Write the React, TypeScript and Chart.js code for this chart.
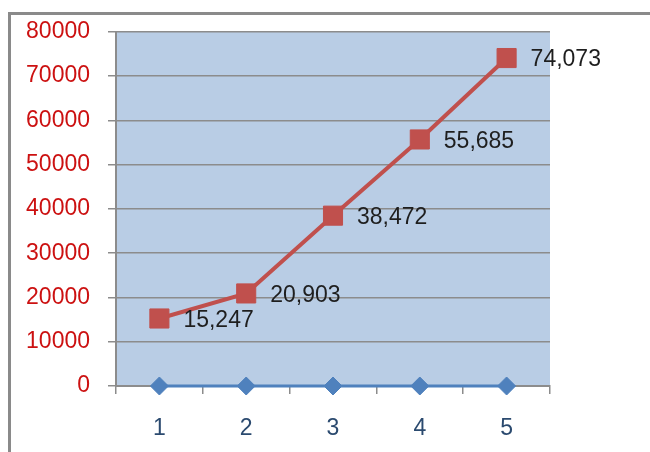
import React, { useEffect, useRef } from "react";
import { Chart, registerables } from "chart.js";

Chart.register(...registerables);

const categories = ["1", "2", "3", "4", "5"];
const seriesBlue = [0, 0, 0, 0, 0];
const seriesRed = [15247, 20903, 38472, 55685, 74073];
const yTicks = [0, 10000, 20000, 30000, 40000, 50000, 60000, 70000, 80000];

const FONT = "'Liberation Sans', Arial, sans-serif";

const bgPlugin = {
  id: "bgPlugin",
  beforeDraw(chart: any) {
    const { ctx, chartArea, width, height } = chart;
    ctx.save();
    ctx.fillStyle = "#ffffff";
    ctx.fillRect(0, 0, width, height);
    ctx.strokeStyle = "#8a8a8a";
    ctx.lineWidth = 3;
    ctx.beginPath();
    ctx.moveTo(9.5, height);
    ctx.lineTo(9.5, 13.5);
    ctx.lineTo(width, 13.5);
    ctx.stroke();
    ctx.fillStyle = "#B9CDE5";
    ctx.fillRect(chartArea.left, chartArea.top, chartArea.right - chartArea.left, chartArea.bottom - chartArea.top);
    ctx.restore();
  },
};

const labelPlugin = {
  id: "labelPlugin",
  afterDatasetsDraw(chart: any) {
    const { ctx } = chart;
    const meta = chart.getDatasetMeta(1);
    ctx.save();
    ctx.font = `23px ${FONT}`;
    ctx.fillStyle = "#1e1e1e";
    ctx.textAlign = "left";
    ctx.textBaseline = "middle";
    meta.data.forEach((pt: any, i: number) => {
      ctx.fillText(seriesRed[i].toLocaleString("en-US"), pt.x + 24, pt.y + 2);
    });
    ctx.restore();
  },
};

export default function App() {
  const ref = useRef<HTMLCanvasElement>(null);
  useEffect(() => {
    if (!ref.current) return;
    const chart = new Chart(ref.current, {
      type: "line",
      data: {
        labels: categories,
        datasets: [
          {
            label: "Series1",
            data: seriesBlue,
            borderColor: "#4F81BD",
            backgroundColor: "#4F81BD",
            borderWidth: 3,
            pointStyle: "rectRot",
            pointRadius: 9,
            pointBorderWidth: 1,
            tension: 0,
            clip: false,
          },
          {
            label: "Series2",
            data: seriesRed,
            borderColor: "#C0504D",
            backgroundColor: "#C0504D",
            borderWidth: 4,
            pointStyle: "rect",
            pointRadius: 13.5,
            pointBorderWidth: 1,
            tension: 0,
            clip: false,
          },
        ],
      },
      options: {
        animation: false,
        responsive: false,
        maintainAspectRatio: false,
        layout: { padding: { top: 29, right: 100, bottom: 0, left: 0 } },
        plugins: { legend: { display: false }, tooltip: { enabled: false } },
        scales: {
          x: {
            type: "category",
            offset: true,
            grid: {
              offset: true,
              drawOnChartArea: false,
              drawTicks: true,
              tickLength: 8,
              color: "#8c8c8c",
              lineWidth: 1.5,
            },
            border: { color: "#8c8c8c", width: 2 },
            ticks: { color: "#2B4A6F", font: { family: FONT, size: 23 }, padding: 21 },
            afterFit(scale: any) {
              scale.height = 66;
            },
          },
          y: {
            min: 0,
            max: 80000,
            afterBuildTicks(scale: any) {
              scale.ticks = yTicks.map((v) => ({ value: v }));
            },
            grid: { color: "#8c8c8c", lineWidth: 1.5, tickLength: 8 },
            border: { color: "#8c8c8c", width: 2 },
            ticks: {
              color: "#CC1111",
              font: { family: FONT, size: 23 },
              padding: 18,
              callback: (v: any) => String(v),
            },
            afterFit(scale: any) {
              scale.width = 116;
            },
          },
        },
      },
      plugins: [bgPlugin, labelPlugin],
    });
    return () => chart.destroy();
  }, []);
  return (
    <div style={{ position: "fixed", left: 0, top: 0, width: 650, height: 452 }}>
      <canvas ref={ref} width={650} height={452} style={{ width: 650, height: 452 }} />
    </div>
  );
}
